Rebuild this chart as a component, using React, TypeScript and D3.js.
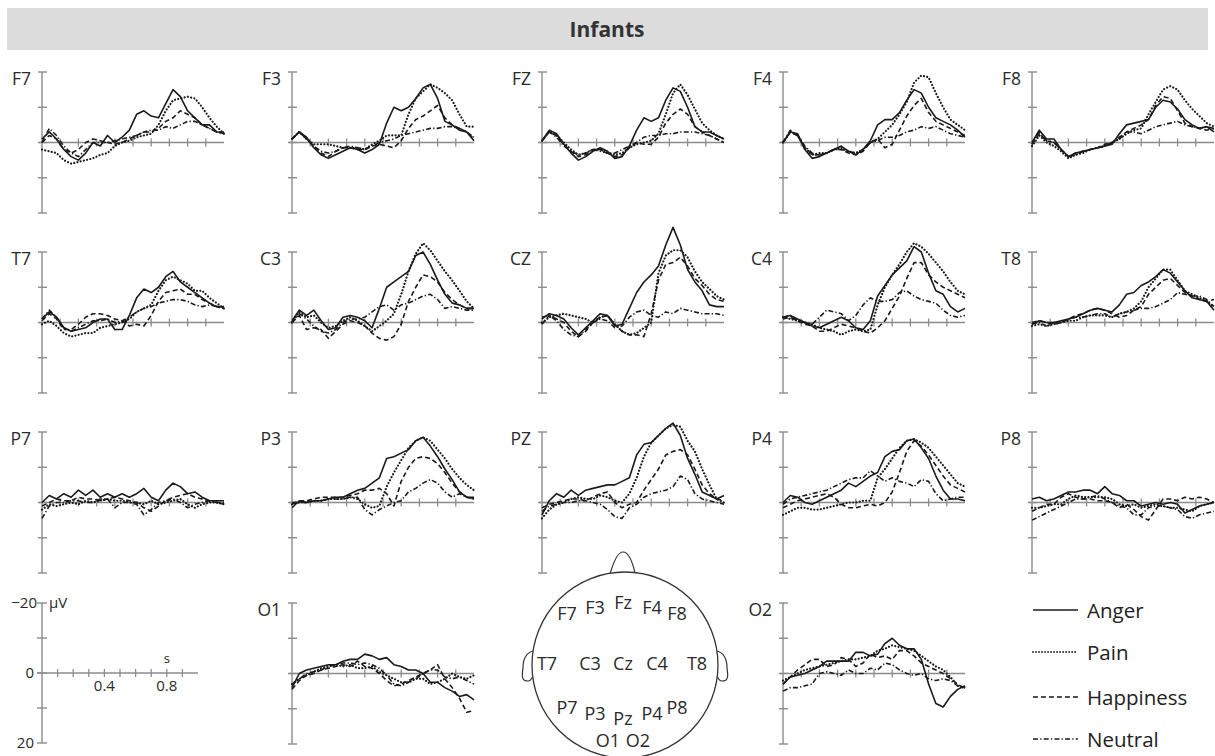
import React from "react";
import * as d3 from "d3";

const W = 1215;
const H = 756;
const FONT = "'Open Sans', 'Noto Sans', sans-serif";

// sample times (s) of the ERP traces
const times = [0, 0.04, 0.08, 0.12, 0.16, 0.2, 0.24, 0.28, 0.32, 0.36, 0.4, 0.44, 0.48,
  0.52, 0.56, 0.6, 0.64, 0.68, 0.72, 0.76, 0.8, 0.84, 0.88, 0.92, 0.96, 1];
const conditions = ["Anger", "Pain", "Happiness", "Neutral"];
const yTicks = [-20, -10, 0, 10, 20];
const xTicks = [0.1, 0.2, 0.3, 0.4, 0.5, 0.6, 0.7, 0.8, 0.9];
const scaleLabels = [0.4, 0.8];

// µV values, negative is up. order: anger, pain, happiness, neutral
const F7 = [
  [-1, -3, -1, 2, 4, 5, 3, 0, 1, -2, 0, -1.5, -3.5, -8, -9, -7.5, -7, -11, -15, -13, -9, -7, -5, -5, -3, -3],
  [2, 2.5, 3, 5, 6, 5.5, 5, 4.5, 3.5, 3, 1, 0, -0.5, -1.5, -2, -2.5, -5, -9, -12, -12.5, -13, -12.5, -10, -7, -4.5, -2.5],
  [0, -2, -1, 2, 3, 2, 0, -1, -0.5, 0, 0.5, 0, -1, -2, -3, -3, -4, -6, -7, -9, -8, -7, -5, -4, -3, -2.5],
  [0, -4, -2, 1, 3, 4, 2, 0, 0, 0, -0.5, -1, -1.5, -2, -3, -3.5, -3.5, -4.5, -4, -5, -6, -6, -5, -4, -3, -2.5],
];
const F3 = [
  [-1, -3, -1.5, 1.5, 3.5, 4.5, 3.5, 2.5, 1.5, 2, 3, 2, 0.5, -5.5, -10, -9, -10, -12.5, -15.5, -16.5, -12.5, -6, -5, -3.5, -3, -0.5],
  [-1, -3, -1, 0.5, 0.5, 0.5, 1, 1.5, 1.5, 1.5, 2, 0.5, -0.5, -2, -2, -2, -8, -12.5, -14.5, -16.5, -15.5, -14, -12, -8, -4.5, -4.5],
  [-1, -3, -1, 1, 3, 4, 2.5, 1.5, 1.5, 2, 2, 1, 0.5, 1, 1.5, -0.5, -4, -6.5, -7.5, -9, -10.5, -7, -5, -4, -3, -1],
  [-1, -3, -1, 1, 2.5, 3, 2.5, 1.5, 1, 1.5, 2, 1, 0, -0.5, -1, -2, -2.5, -3, -3.5, -4, -4, -4.5, -4.5, -4, -3, -1.5],
];
const FZ = [
  [-0.5, -3.5, -2.5, 0.5, 3, 5, 4, 2.5, 1.5, 2.5, 4.5, 4, 1, -3.5, -7, -6, -7, -12, -15.5, -14.5, -10, -4.5, -3, -3, -2, -1],
  [-0.5, -3, -2, 0, 2, 3.5, 3, 2, 2, 3, 3.5, 3, 1.5, 0.5, 0, -0.5, -2.5, -8, -14, -16.5, -13.5, -9.5, -5.5, -3.5, -2, -1],
  [-0.5, -3, -2, 0.5, 2.5, 4, 3.5, 2, 2, 3, 4, 3.5, 1.5, 0, 0.5, 0.5, -1.5, -5.5, -8, -9.5, -8, -4.5, -3, -2, -1, 0],
  [-0.5, -3, -1.5, 1, 2.5, 3.5, 3, 2, 2.5, 3, 3, 2, 1, 0, -1.5, -2, -2, -2.5, -2.5, -3, -3, -3, -2.5, -2, -1, 0],
];
const F4 = [
  [0, -3, -2.5, 2, 4.5, 4, 3, 2, 1, 2.5, 3.5, 2, -0.5, -5, -6.5, -6.5, -8.5, -12, -15, -14, -10, -7, -6, -5, -3.5, -1.5],
  [0, -3, -2, 1.5, 3.5, 3, 3, 2, 1.5, 2.5, 3, 2, 0, -1, -3, -5, -8, -11.5, -17, -19, -18.5, -14, -10, -6.5, -5, -3.5],
  [0, -3, -2, 1.5, 3.5, 3.5, 3, 2, 2, 3, 3.5, 2.5, 0, -1, 1.5, 0.5, -3.5, -7.5, -10.5, -12.5, -8.5, -6, -5, -4, -3, -2],
  [0, -3.5, -2, 1, 3, 3.5, 3, 2, 2, 2.5, 3, 2, 0, -0.5, -1.5, -1.5, -2, -3, -3.5, -4.5, -4, -4.5, -3.5, -2.5, -2, -1.5],
];
const F8 = [
  [0, -3.5, -1, -1, 2, 4, 3, 2.5, 2, 1.5, 1, 0.5, -2.5, -5, -5.5, -6, -6.5, -10, -12, -11.5, -9.5, -6.5, -5, -4, -4.5, -3],
  [1, -2, 0, 1, 2.5, 4.5, 3.5, 3, 2, 1.5, 1, 0, -1, -2.5, -3.5, -4, -8, -11.5, -15, -16, -15, -12, -9.5, -7.5, -5.5, -4.5],
  [0.5, -2.5, -0.5, 0, 2, 4, 3, 2.5, 2, 1.5, 0.5, 0, -1.5, -3, -4, -5, -6.5, -10.5, -13, -12.5, -9, -5.5, -4.5, -4, -3.5, -4],
  [0.5, -3, -0.5, 0, 2, 4, 3.5, 2.5, 2, 1.5, 1, 0, -1, -3, -3, -2.5, -3.5, -4.5, -5, -5.5, -6, -5, -4.5, -4, -4.5, -4],
];
const T7 = [
  [-1, -3, -1.5, 1.5, 2.5, 2, 1.5, 0, -1, -1, 2, 2, -2, -7, -9.5, -8.5, -10, -13, -14.5, -11.5, -10, -8.5, -7, -5.5, -4.5, -4.5],
  [0.5, -0.5, 1, 3, 4, 3.5, 3, 3, 1.5, 1, 0.5, 0, -1, -3, -4, -5, -9, -12, -13, -12, -11, -9, -9, -7, -5.5, -4],
  [-0.5, -2.5, -1, 2, 2, 0.5, -1.5, -2.5, -2.5, -2, -1, -0.5, 1, 0.5, 1, -2, -6, -8.5, -9, -9.5, -8, -8, -6.5, -5.5, -4.5, -4],
  [-1, -3.5, -1.5, 1.5, 2.5, 1.5, 0.5, -0.5, -0.5, -1, 0, -0.5, -1.5, -3, -4, -4.5, -5.5, -6, -6.5, -6.5, -6, -5, -4.5, -5, -4.5, -4],
];
const C3 = [
  [-0.5, -3.5, -2, -3.5, -0.5, 2, 1.5, -1.5, -2, -1.5, -0.5, 1.5, -4, -10, -11.5, -13, -14.5, -19, -20, -16.5, -12, -8, -5.5, -5, -4, -4],
  [0, -3, -1.5, -2, 0, 1.5, 1, -0.5, -1.5, -0.5, 1, 2.5, 1, -0.5, -2.5, -8, -14.5, -19.5, -22.5, -20.5, -17.5, -14.5, -12, -9, -6, -4],
  [0, -2, 2, 1.5, 2, 4.5, 2.5, 0.5, -0.5, 0, 1, 3, 4.5, 5, 4, 0.5, -6, -10, -13.5, -13, -11.5, -8.5, -6.5, -5, -4, -4],
  [0, -2.5, -1, 1, 2.5, 3, 2, 0, -1, -1, -1.5, -3, -4.5, -5, -3.5, -5, -5.5, -6.5, -7.5, -8, -6.5, -4, -4.5, -4, -3.5, -3.5],
];
const CZ = [
  [-1, -2.5, -2, -1, 1.5, 3.5, 1.5, -0.5, -2.5, -2, 1, 0.5, -4, -8.5, -11.5, -13.5, -16, -22, -27, -22, -15, -11.5, -9, -5, -4.5, -4.5],
  [0, -1.5, -2, -2.5, -2, -1.5, -1, 0, -1.5, -2, 0.5, 2.5, 3.5, 3, 1.5, 0, -14, -19, -20.5, -20.5, -18.5, -14.5, -11.5, -9.5, -7.5, -6.5],
  [0.5, -2, -1, 0, 2.5, 4, 2.5, 0, -1.5, -2, 0.5, 2.5, 3.5, 3.5, 4, -2.5, -12, -16.5, -17, -18.5, -16, -12.5, -10.5, -8, -6.5, -6],
  [-1.5, -2, -0.5, 2, 3.5, 4, 2, 0, -1, -0.5, 1.5, 1, -1.5, -3, -3.5, -2, -1.5, -3, -2.5, -4, -3.5, -3, -2.5, -2.5, -2.5, -2],
];
const C4 = [
  [-1.5, -2, -1, 0, 1, 1.5, 0.5, -0.5, -1.5, -0.5, 1.5, 2, -0.5, -7.5, -10.5, -13.5, -15.5, -17.5, -21.5, -20, -14, -9, -8, -4.5, -3, -4],
  [-1.5, -1, -0.5, 0, 0.5, 1.5, 2, 2.5, 3.5, 2.5, 2, 2.5, 2, -5, -10, -13.5, -16.5, -20, -22.5, -21.5, -19.5, -17, -14.5, -11.5, -9, -8],
  [-1, -1.5, -0.5, 0.5, 1, 2.5, 2.5, 1.5, 0.5, 1, 1.5, 2.5, 3, 1.5, -0.5, -4, -7.5, -12.5, -17, -17, -13.5, -11.5, -10, -9, -8, -7],
  [-1.5, -2, -0.5, 0, 0.5, -1.5, -3.5, -3, -2.5, -0.5, -2, -5, -7, -6, -6, -6.5, -8.5, -9, -7.5, -6.5, -6, -5.5, -3.5, -2, -1.5, -2],
];
const T8 = [
  [0.5, -0.5, 0, 0, -0.5, -1, -1.5, -2.5, -3.5, -4, -3.5, -3, -5, -8, -8.5, -10.5, -11.5, -13, -15, -14, -11.5, -9, -7, -6.5, -6, -3.5],
  [1, 0.5, 1, 0.5, 0, -0.5, -0.5, -1.5, -2, -2, -2, -1.5, -2.5, -3, -4, -6, -10, -12.5, -15, -15, -12, -9, -8, -7, -6, -4.5],
  [0, -0.5, 0, 0.5, 0, -1, -2, -2.5, -3.5, -4, -3.5, -2.5, -1.5, -2, -3.5, -4.5, -8, -10, -12, -12.5, -10.5, -8.5, -7.5, -6.5, -6, -6.5],
  [0.5, 0, 1, 0, 0, -1, -1.5, -1.5, -2, -2.5, -2.5, -1.5, -2.5, -3, -3.5, -4, -4, -4.5, -5.5, -6.5, -8.5, -8, -7.5, -7.5, -6.5, -4.5],
];
const P7 = [
  [0, -2, -1, -2.5, -1.5, -3.5, -2, -3.5, -1.5, -2.5, -1.5, -2.5, -1.5, -2.5, -4, -1.5, -0.5, -3.5, -5.5, -4.5, -2.5, -3, -1.5, -0.5, -0.5, -0.5],
  [2, 0.5, 1, 0.5, 0, 0.5, -0.5, 0, -0.5, -1, -0.5, -0.5, 0, 0, 0.5, -0.5, 0.5, 0, -0.5, -1, 0.5, 1.5, 0.5, 0, 0, 0.5],
  [1, 0, -1, -0.5, -0.5, -1.5, -1, -1, -0.5, -1, -1.5, -1, -0.5, 0, 1.5, 2.5, 1, -0.5, -1.5, -2, -2.5, -1.5, -1, -0.5, 0, 0.5],
  [4.5, 1, 0, 0, -0.5, -0.5, 0, 0, -1, -1, 1.5, 0, 0, 0.5, 3.5, 2, 0, -0.5, -1, 0, 1.5, 0.5, 0, -0.5, 0, 0],
];
const P3 = [
  [1.5, -0.5, 0, -0.5, -0.5, -1, -1.5, -1.5, -2.5, -3.5, -4, -5.5, -7, -12.5, -13, -14, -15, -17.5, -18.5, -16, -13, -9.5, -6.5, -3, -1.5, -1.5],
  [0.5, 0, 0, -0.5, -0.5, -1, -1, -1, -1.5, -1, 0.5, 1.5, 1, -4.5, -8.5, -12, -15.5, -17.5, -18.5, -17.5, -15, -12.5, -9.5, -7, -5, -3.5],
  [0.5, -0.5, -0.5, -1, -1.5, -1.5, -1.5, -1.5, -2, -2.5, -3.5, -3.5, -4, -2.5, 1, -6, -10, -12.5, -13, -12.5, -11, -8.5, -5.5, -3, -1.5, -1],
  [0, 0, 0, -0.5, -0.5, -1, -1, -1, -1.5, -1.5, 2, 3.5, 2, 1, 0, -0.5, -3, -4, -5.5, -6.5, -5.5, -3, -1.5, -2.5, -1.5, -1],
];
const PZ = [
  [3.5, -0.5, -2.5, -1.5, -3.5, -2, -3.5, -4, -4.5, -5, -5, -6, -7, -13.5, -16.5, -17, -19, -21, -22.5, -19, -12.5, -8, -3, -2, -1, -2],
  [4.5, 2, 0.5, 0, -1, -1.5, -1, -1, -2, -1.5, -0.5, 0, -2.5, -7, -13, -17, -19, -21, -22, -21.5, -17.5, -14.5, -9.5, -5, -1, 0],
  [1.5, 0.5, 0, -0.5, -1, -1, -0.5, -1.5, -2.5, -3, 0, 1.5, 0.5, 0, -3.5, -6.5, -9.5, -13.5, -14.5, -15, -13.5, -9.5, -5, -2.5, -1, -0.5],
  [2.5, 1, 0.5, 0, 0, -0.5, -0.5, 0, 0.5, 2, 4, 4.5, 1.5, 0.5, -1.5, -2.5, -3, -3.5, -4.5, -7.5, -6.5, -2.5, -1, -0.5, 0, 0.5],
];
const P4 = [
  [0, -2, -1.5, 0, 0.5, -0.5, -1.5, -2.5, -3.5, -5.5, -4.5, -6, -7.5, -8.5, -13, -14.5, -15, -17.5, -18, -15.5, -12.5, -7.5, -3.5, -1, -1, -0.5],
  [3.5, 2.5, 1.5, 1.5, 2, 2, 1.5, 1, 0.5, 0, 0, -0.5, -0.5, -7, -9.5, -12.5, -15.5, -17.5, -18, -17, -15.5, -13, -10.5, -8, -5.5, -4.5],
  [1.5, 0.5, -0.5, -1, -1.5, -2, -2.5, -1.5, 0.5, 1.5, 1.5, 1, 0.5, 1, 0, -3, -8.5, -14.5, -17.5, -16, -13.5, -10.5, -7.5, -5, -4, -3],
  [0.5, -1, -1.5, -2, -2.5, -3, -3.5, -4.5, -5.5, -6.5, -7, -7, -9, -7.5, -6, -7, -6, -5.5, -4.5, -6.5, -6, -2.5, -0.5, -1, -1.5, -1.5],
];
const P8 = [
  [-1, -1.5, -0.5, -1, -2, -3, -3, -3.5, -3.5, -2.5, -4.5, -2.5, -2, -0.5, -0.5, 1, 0.5, 0, 0.5, 0, 0.5, 3, 2, 1, 0.5, 0],
  [1.5, 1.5, 1, 0.5, 0.5, -1, -2, -1.5, -1.5, -1.5, -1.5, -1, 0.5, 1, 0.5, 1.5, 1, 0.5, 1, 1.5, 1.5, 2, 2.5, 1, 0.5, 0],
  [2.5, 1.5, 0.5, 0.5, -1.5, -2.5, -1.5, -1, -1, -0.5, -0.5, 0, 1.5, 0.5, 2, 4, 5, 2, -1, -1, -0.5, -1.5, -1, -1.5, -1, 0],
  [5, 4, 3, 2, 1, 0, -1, -1, -1.5, -2, -1, 0, 1, 1.5, 3.5, 3.5, 1.5, 1, 1, 1.5, 2, 4, 4.5, 3.5, 3, 2.5],
];
const O1 = [
  [4, 0, -1, -1.5, -2, -2.5, -2.5, -3.5, -4, -4, -5.5, -5, -4, -4.5, -2.5, -2, -1, -1, 0, 2.5, 2.5, 4, 5, 6.5, 6, 7.5],
  [3, 1.5, 0.5, -0.5, -1.5, -2, -2.5, -2, -2.5, -1.5, -1.5, -2, -0.5, 0.5, 1.5, 2.5, 2.5, 1.5, 1.5, 3, 2.5, 1.5, 0, 1, 1.5, 0.5],
  [4.5, 2, 0.5, 0, -1, -1.5, -2, -2.5, -2, -3.5, -2, -1.5, 0, 2, 3.5, 3, 2, 1, 0, -1, -2.5, 1.5, 4, 7, 11, 10.5],
  [3, 1.5, 0, -0.5, -1, -2, -2.5, -3, -3, -2.5, -3, -2.5, -1.5, 0.5, 3, 3.5, 2.5, 1.5, 0, -1, -1, 1, 1.5, 1, 2, 3],
];
const O2 = [
  [3, 1, 0.5, 0, -1, -2, -3.5, -3.5, -3.5, -3.5, -6, -6, -5, -5.5, -8.5, -10, -8, -7, -7, -4, 3, 8.5, 9.5, 6.5, 4.5, 3.5],
  [2, 1, 0, -1, -1.5, -2, -2.5, -3, -3.5, -4, -4, -4.5, -5, -6.5, -7, -8, -7.5, -7, -6.5, -5, -3.5, -2, -1, 1, 3.5, 4],
  [3, 1, -1, -2.5, -4, -4, -2, -2.5, -4.5, -4, -2, -3, -5.5, -4.5, -5, -4, -6.5, -6.5, -5, -3, -2, -1, 0, 1.5, 3, 4.5],
  [5, 4, 4, 3.5, 3, 0, -0.5, 0, 0.5, -1, 0, 0, -1.5, -1, -3, -2.5, -1, 0, 0.5, 0, 1.5, 2, 1.5, 2, 3.5, 4],
];

const panels = [
  { name: "F7", row: 0, col: 0, data: F7 },
  { name: "F3", row: 0, col: 1, data: F3 },
  { name: "FZ", row: 0, col: 2, data: FZ },
  { name: "F4", row: 0, col: 3, data: F4 },
  { name: "F8", row: 0, col: 4, data: F8 },
  { name: "T7", row: 1, col: 0, data: T7 },
  { name: "C3", row: 1, col: 1, data: C3 },
  { name: "CZ", row: 1, col: 2, data: CZ },
  { name: "C4", row: 1, col: 3, data: C4 },
  { name: "T8", row: 1, col: 4, data: T8 },
  { name: "P7", row: 2, col: 0, data: P7 },
  { name: "P3", row: 2, col: 1, data: P3 },
  { name: "PZ", row: 2, col: 2, data: PZ },
  { name: "P4", row: 2, col: 3, data: P4 },
  { name: "P8", row: 2, col: 4, data: P8 },
  { name: "O1", row: 3, col: 1, data: O1 },
  { name: "O2", row: 3, col: 3, data: O2 },
];

// electrode names on the head map, offsets from head centre
const headLabels: [string, number, number][] = [
  ["F7", -58, -52], ["F3", -30, -58], ["Fz", -2, -63], ["F4", 27, -58], ["F8", 52, -52],
  ["T7", -78, -2], ["C3", -35, -2], ["Cz", -2, -2], ["C4", 32, -2], ["T8", 72, -2],
  ["P7", -58, 42], ["P3", -30, 48], ["Pz", -2, 53], ["P4", 27, 48], ["P8", 52, 42],
  ["O1", -17, 75], ["O2", 13, 75],
];

const colX = [42, 292, 542, 783, 1032];
const rowY = [72, 252, 432, 603];
const axisH = 141;
const axisW = 182;
const AXIS = "#8c8c8c";
const INK = "#1a1a1a";

const lineStyles = [
  { dash: undefined, width: 1.6, cap: "butt" },
  { dash: "0.01 3.3", width: 2.2, cap: "round" },
  { dash: "5 3", width: 1.6, cap: "butt" },
  { dash: "5 2.2 1.3 2.2", width: 1.6, cap: "butt" },
];

const Panel = ({ name, x0, y0, data }) => {
  const x = d3.scaleLinear().domain([0, 1]).range([x0, x0 + axisW]);
  const y = d3.scaleLinear().domain([-20, 20]).range([y0, y0 + axisH]);
  const line = d3
    .line<number>()
    .x((_, i) => x(times[i]))
    .y((d) => y(d));
  return (
    <g>
      <text x={x0 - 11} y={y0 + 12.5} fontSize={17.5} textAnchor="end" fill="#2a2a2a" fontFamily={FONT}>
        {name}
      </text>
      <line x1={x0} x2={x0} y1={y(-20)} y2={y(20)} stroke={AXIS} strokeWidth={1.4} />
      {yTicks.map((t) => (
        <line key={t} x1={x0 - 4} x2={x0 + 5} y1={y(t)} y2={y(t)} stroke={AXIS} strokeWidth={1.4} />
      ))}
      <line x1={x0 - 3} x2={x(1)} y1={y(0)} y2={y(0)} stroke={AXIS} strokeWidth={1.4} />
      {xTicks.map((t) => (
        <line key={t} x1={x(t)} x2={x(t)} y1={y(0) - 4} y2={y(0) + 4} stroke={AXIS} strokeWidth={1.3} />
      ))}
      {data.map((s, i) => (
        <path
          key={i}
          d={line(s) || ""}
          fill="none"
          stroke={INK}
          strokeWidth={lineStyles[i].width}
          strokeDasharray={lineStyles[i].dash}
          strokeLinecap={lineStyles[i].cap as any}
          strokeLinejoin="round"
        />
      ))}
    </g>
  );
};

const ScalePanel = ({ x0, y0 }) => {
  const x = d3.scaleLinear().domain([0, 1]).range([x0, x0 + 156]);
  const y = d3.scaleLinear().domain([-20, 20]).range([y0, y0 + 140]);
  return (
    <g fontFamily={FONT} fill="#2a2a2a">
      <line x1={x0} x2={x0} y1={y(-20)} y2={y(20)} stroke={AXIS} strokeWidth={1.4} />
      {yTicks.map((t) => (
        <line key={t} x1={x0 - 5} x2={x0 + 5} y1={y(t)} y2={y(t)} stroke={AXIS} strokeWidth={1.4} />
      ))}
      <line x1={x0 - 5} x2={x(1)} y1={y(0)} y2={y(0)} stroke={AXIS} strokeWidth={1.4} />
      {xTicks.map((t) => (
        <line key={t} x1={x(t)} x2={x(t)} y1={y(0) - 4} y2={y(0) + 4} stroke={AXIS} strokeWidth={1.3} />
      ))}
      <text x={x0 - 5} y={y(-20) + 5} fontSize={15} textAnchor="end">−20</text>
      <text x={x0 - 8} y={y(0) + 5} fontSize={15} textAnchor="end">0</text>
      <text x={x0 - 8} y={y(20) + 5} fontSize={15} textAnchor="end">20</text>
      <text x={x0 + 7} y={y(-20) + 5} fontSize={15}>µV</text>
      {scaleLabels.map((t) => (
        <text key={t} x={x(t)} y={y(0) + 18} fontSize={15} textAnchor="middle">
          {d3.format(".1f")(t)}
        </text>
      ))}
      <text x={x(0.8)} y={y(0) - 10} fontSize={13} textAnchor="middle">s</text>
    </g>
  );
};

const Head = ({ cx, cy, r }) => {
  const nose = `M${cx - 15},${cy - r + 2} C${cx - 11},${cy - r - 12} ${cx - 7},${cy - r - 20} ${cx - 2},${cy - r - 20} C${cx + 3},${cy - r - 20} ${cx + 7},${cy - r - 12} ${cx + 10},${cy - r + 1}`;
  const ear = (s: number) =>
    `M${cx + s * (r - 1)},${cy - 14} C${cx + s * (r + 6)},${cy - 12} ${cx + s * (r + 9)},${cy - 5} ${cx + s * (r + 9)},${cy + 3} C${cx + s * (r + 10)},${cy + 10} ${cx + s * (r + 11)},${cy + 16} ${cx + s * (r + 4)},${cy + 16} C${cx + s * (r + 1)},${cy + 16} ${cx + s * r},${cy + 13} ${cx + s * (r - 1)},${cy + 11}`;
  return (
    <g>
      <path d={nose} fill="white" stroke="#333" strokeWidth={1.2} />
      <path d={ear(-1)} fill="white" stroke="#333" strokeWidth={1.2} />
      <path d={ear(1)} fill="white" stroke="#333" strokeWidth={1.2} />
      <circle cx={cx} cy={cy} r={r} fill="white" stroke="#333" strokeWidth={1.3} />
      {headLabels.map(([n, dx, dy]) => (
        <text
          key={n}
          x={cx + dx}
          y={cy + dy}
          fontSize={18}
          textAnchor="middle"
          dominantBaseline="central"
          fill="#2a2a2a"
          fontFamily={FONT}
        >
          {n}
        </text>
      ))}
    </g>
  );
};

const Legend = ({ x0, y0 }) => {
  const rowGap = [0, 42, 87, 129];
  return (
    <g fontFamily={FONT}>
      {conditions.map((c, i) => (
        <g key={c} transform={`translate(${x0},${y0 + rowGap[i]})`}>
          <line
            x1={0}
            x2={45}
            y1={0}
            y2={0}
            stroke={INK}
            strokeWidth={i === 1 ? 1.8 : 1.6}
            strokeDasharray={i === 1 ? "0.01 3" : lineStyles[i].dash}
            strokeLinecap={lineStyles[i].cap as any}
          />
          <text x={54} y={0} fontSize={20.5} dominantBaseline="central" fill="#222">
            {c}
          </text>
        </g>
      ))}
    </g>
  );
};

export default function App() {
  return (
    <svg
      width={W}
      height={H}
      viewBox={`0 0 ${W} ${H}`}
      style={{ position: "absolute", left: 0, top: 0, background: "white" }}
    >
      <rect x={0} y={0} width={W} height={H} fill="white" />
      <rect x={7} y={8} width={1201} height={42} fill="#dcdcdc" />
      <text x={607} y={29} fontSize={21} fontWeight="bold" textAnchor="middle" dominantBaseline="central" fill="#333" fontFamily={FONT}>
        Infants
      </text>
      {panels.map((p) => (
        <Panel key={p.name} name={p.name} x0={colX[p.col]} y0={rowY[p.row]} data={p.data} />
      ))}
      <ScalePanel x0={colX[0]} y0={rowY[3]} />
      <Head cx={625} cy={665} r={93} />
      <Legend x0={1033} y0={610} />
    </svg>
  );
}
